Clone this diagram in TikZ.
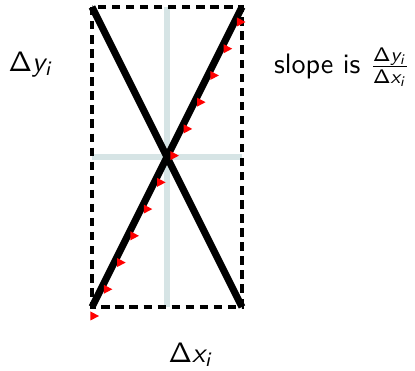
\documentclass[tikz,border=0pt]{standalone}
\usepackage{amsmath}
\usepackage{tikz}
\usetikzlibrary{calc}
\definecolor{guidegray}{RGB}{214,228,229}
\DeclareMathAlphabet{\mathsfit}{OT1}{cmss}{m}{sl}
\newcommand{\dlt}[1]{\mathsf{\Delta}\mathsfit{#1}_{\mathsfit{i}}}

\begin{document}
\begin{tikzpicture}[
    x=0.0125cm, y=0.0125cm,
    frame/.style={
        draw=black,
        line width=1.2pt,
        dash pattern=on 3pt off 2pt
    },
    guide/.style={
        draw=guidegray,
        line width=1.8pt
    },
    diag/.style={
        draw=black,
        line width=2.5pt
    },
    flowtip/.style={
        fill=red
    },
    lbl/.style={
        font=\sffamily,
        inner sep=1pt
    }
]
\useasboundingbox (0,0) rectangle (415,371);

% corners and midpoints of the box
\coordinate (tl) at (92,364);
\coordinate (tr) at (242,364);
\coordinate (bl) at (92,64);
\coordinate (br) at (242,64);
\coordinate (top) at (167,364);
\coordinate (bottom) at (167,64);
\coordinate (left) at (92,214);
\coordinate (right) at (242,214);
\coordinate (flowstart) at (90.5,55);
\coordinate (flowend) at (237,349);

\draw[guide] (top) -- (bottom);
\draw[guide] (left) -- (right);
\draw[frame] (tl) rectangle (br);

\draw[diag] (tl) -- (br);
\draw[diag] (bl) -- (tr);

% red markers along the rising diagonal
\foreach \k in {0,...,11}
    \fill[flowtip] ($(flowstart)!\k/11!(flowend)$) ++(0,4.5) -- ++(8.5,-4.5) -- ++(-8.5,-4.5) -- cycle;

\node[lbl] (dy) at (31,307) {$\dlt{y}$};
\node[lbl] (dx) at (191,16) {$\dlt{x}$};
\node[lbl] (slope) at (342,304) {slope is $\frac{\dlt{y}}{\dlt{x}}$};
\end{tikzpicture}
\end{document}
